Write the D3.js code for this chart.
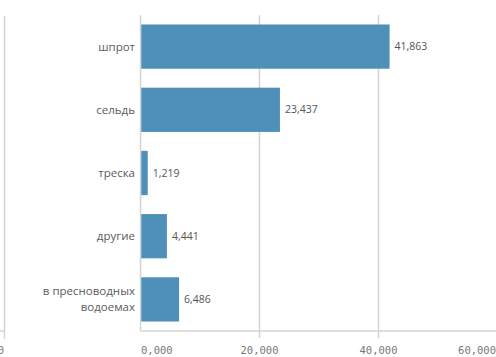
<!DOCTYPE html>
<html>
<head>
<meta charset="utf-8">
<script src="https://cdn.jsdelivr.net/npm/d3@7"></script>
<style>
  body { margin: 0; background: #fff; overflow: hidden; }
  svg { display: block; }
</style>
</head>
<body>
<svg id="chart" width="496" height="357"></svg>
<script>
// data
var categories = ["шпрот", "сельдь", "треска", "другие", "в пресноводных водоемах"];
var catLines = [["шпрот"], ["сельдь"], ["треска"], ["другие"], ["в пресноводных", "водоемах"]];
var values = [41863, 23437, 1219, 4441, 6486];
var tickValues = [0, 20000, 40000, 60000];
var tickLabels = ["0,000", "20,000", "40,000", "60,000"];

var svg = d3.select("#chart");
var plotTop = 15, plotBottom = 331;

var x = d3.scaleLinear().domain([0, 60000]).range([140.5, 497.5]);
var y = d3.scaleBand().domain(categories).range([plotTop, plotBottom])
    .paddingInner(0.3).paddingOuter(0.15);

// left panel remnants (neighbouring chart, clipped)
svg.append("line").attr("x1", 4.5).attr("x2", 4.5).attr("y1", 16).attr("y2", 339)
    .attr("stroke", "#d4d4d4").attr("stroke-width", 1.5);
svg.append("line").attr("x1", 0).attr("x2", 5).attr("y1", plotBottom).attr("y2", plotBottom)
    .attr("stroke", "#d4d4d4").attr("stroke-width", 1.5);
svg.append("text").attr("x", 4).attr("y", 354).attr("text-anchor", "end")
    .style("font-family", "DejaVu Sans Mono").style("font-size", "10.5px")
    .attr("fill", "#777").text("0");

// grid lines
svg.selectAll(".grid").data(tickValues).enter().append("line")
    .attr("class", "grid")
    .attr("x1", function(d) { return x(d); })
    .attr("x2", function(d) { return x(d); })
    .attr("y1", plotTop)
    .attr("y2", function(d, i) { return i == 0 ? plotBottom : plotBottom + 7; })
    .attr("stroke", "#d4d4d4").attr("stroke-width", 1.5);

// x axis line
svg.append("line").attr("x1", x(0)).attr("x2", 496).attr("y1", plotBottom).attr("y2", plotBottom)
    .attr("stroke", "#d4d4d4").attr("stroke-width", 1.5);

// tick labels
svg.selectAll(".tick-label").data(tickValues).enter().append("text")
    .attr("class", "tick-label")
    .attr("x", function(d, i) {
      if (i == 0) return x(d) + 0.5;
      if (i == tickValues.length - 1) return 496;
      return x(d);
    })
    .attr("y", 354)
    .attr("text-anchor", function(d, i) {
      if (i == 0) return "start";
      if (i == tickValues.length - 1) return "end";
      return "middle";
    })
    .style("font-family", "DejaVu Sans Mono").style("font-size", "10.5px")
    .attr("fill", "#777")
    .text(function(d, i) { return tickLabels[i]; });

// bars
svg.selectAll(".bar").data(values).enter().append("rect")
    .attr("class", "bar")
    .attr("x", x(0) + 0.75)
    .attr("y", function(d, i) { return y(categories[i]); })
    .attr("width", function(d) { return x(d) - x(0) - 0.75; })
    .attr("height", y.bandwidth())
    .attr("fill", "#4e90b8");

// value labels
svg.selectAll(".val").data(values).enter().append("text")
    .attr("class", "val")
    .attr("x", function(d) { return x(d) + 5; })
    .attr("y", function(d, i) { return y(categories[i]) + y.bandwidth() / 2; })
    .attr("dy", "0.35em")
    .style("font-family", "Open Sans").style("font-size", "10.5px")
    .attr("fill", "#555")
    .text(function(d) { return d3.format(",")(d); });

// category labels
var labels = svg.selectAll(".cat").data(catLines).enter().append("text")
    .attr("class", "cat")
    .attr("text-anchor", "end")
    .style("font-family", "Open Sans").style("font-size", "11.5px")
    .attr("fill", "#5a5a5a");
labels.each(function(lines, i) {
  var cy = y(categories[i]) + y.bandwidth() / 2;
  var t = d3.select(this);
  lines.forEach(function(line, j) {
    t.append("tspan").attr("x", 135)
      .attr("y", cy + (j - (lines.length - 1) / 2) * 16)
      .attr("dy", "0.35em")
      .text(line);
  });
});
</script>
</body>
</html>
